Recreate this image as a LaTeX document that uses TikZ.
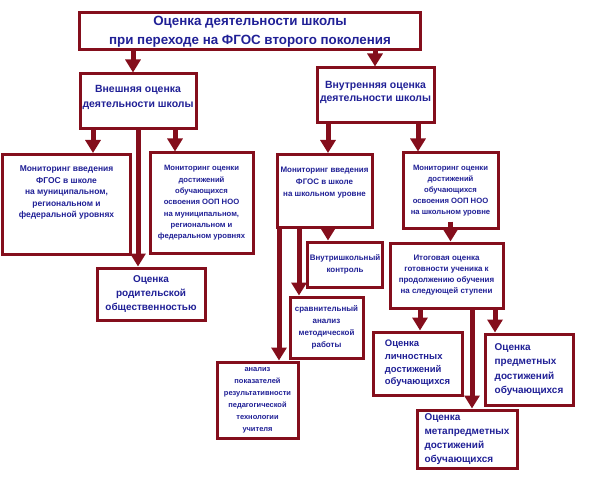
\documentclass[tikz,border=0pt]{standalone}
\usepackage{fontspec}
\setmainfont{Liberation Sans}
\usetikzlibrary{arrows.meta}
\definecolor{frame}{RGB}{132,14,28}
\definecolor{ink}{RGB}{32,32,150}
\newcommand{\fsz}[2]{\fontsize{#1}{#2}\selectfont}

\begin{document}
\begin{tikzpicture}[x=1bp, y=-1bp,
  box/.style={draw=frame, line width=3bp, fill=white, align=center,
              inner sep=2bp, text=ink, font=\bfseries\fsz{8}{12}},
  res/.style={box, align=left, font=\bfseries\fsz{10}{14.5}},
  arr/.style={-{Triangle[width=15bp, length=13bp]}, line width=5bp, draw=frame}
]
  \useasboundingbox (0,0) rectangle (589,480);
  % top level
  \node[box, minimum width=340bp, minimum height=37bp, font=\bfseries\fsz{13.4}{19}]
    (top) at (250,31.5) {Оценка деятельности школы\\при переходе на ФГОС второго поколения};
  \node[box, minimum width=116bp, minimum height=55bp, font=\bfseries\fsz{10.5}{15}]
    (ext) at (138,101.5) {Внешняя оценка\\деятельности школы\\[-4bp]};
  \node[box, minimum width=117bp, minimum height=55bp, font=\bfseries\fsz{10.5}{13.5}]
    (int) at (375.5,95.5) {Внутренняя оценка\\деятельности школы\\[-5bp]};
  % external branch
  \node[box, minimum width=127bp, minimum height=100bp, anchor=north, font=\bfseries\fsz{8.5}{11.5}]
    (monmun) at (66.5,153) {Мониторинг введения\\ФГОС в школе\\на муниципальном,\\региональном и\\федеральной уровнях\\[14bp]};
  \node[box, minimum width=103bp, minimum height=100bp, font=\bfseries\fsz{7.7}{11.4}]
    (oopmun) at (201.5,203) {Мониторинг оценки\\достижений\\обучающихся\\освоения ООП НОО\\на муниципальном,\\региональном и\\федеральном уровнях};
  \node[box, minimum width=108bp, minimum height=52bp, font=\bfseries\fsz{10}{14}]
    (parent) at (151,294) {Оценка\\родительской\\общественностью};
  % internal branch
  \node[box, minimum width=95bp, minimum height=73bp, anchor=north, font=\bfseries\fsz{8}{12.5}]
    (monsch) at (324.5,153) {Мониторинг введения\\ФГОС в школе\\на школьном уровне\\[6bp]};
  \node[box, minimum width=95bp, minimum height=75bp, font=\bfseries\fsz{7.7}{11}]
    (oopsch) at (450.5,190.5) {Мониторинг оценки\\достижений\\обучающихся\\освоения ООП НОО\\на школьном уровне};
  \node[box, minimum width=74bp, minimum height=45bp]
    (control) at (345,264.5) {Внутришкольный\\контроль};
  \node[box, minimum width=73bp, minimum height=61bp]
    (compare) at (326.5,327.5) {сравнительный\\анализ\\методической\\работы};
  \node[box, minimum width=81bp, minimum height=76bp, font=\bfseries\fsz{7.5}{12}]
    (teacher) at (257.5,400) {анализ\\показателей\\результативности\\педагогической\\технологии\\учителя};
  \node[box, minimum width=113bp, minimum height=65bp, font=\bfseries\fsz{8}{11}]
    (final) at (446.5,275.5) {Итоговая оценка\\готовности ученика к\\продолжению обучения\\на следующей ступени};
  % results
  \node[res, minimum width=89bp, minimum height=63bp, font=\bfseries\fsz{9.5}{12.8}]
    (personal) at (417.5,363.5) {Оценка\\личностных\\достижений\\обучающихся};
  \node[res, minimum width=88bp, minimum height=71bp]
    (subject) at (529,369.5) {Оценка\\предметных\\достижений\\обучающихся};
  \node[res, minimum width=100bp, minimum height=58bp, font=\bfseries\fsz{10}{14}]
    (meta) at (467,439) {Оценка\\метапредметных\\достижений\\обучающихся};

  % start points of the arrows
  \coordinate (t1) at ([xshift=-117bp]top.south);
  \coordinate (t2) at ([xshift=125bp]top.south);
  \coordinate (e1) at ([xshift=-45bp]ext.south);
  \coordinate (e2) at (ext.south);
  \coordinate (e3) at ([xshift=37bp]ext.south);
  \coordinate (i1) at ([xshift=-47.5bp]int.south);
  \coordinate (i2) at ([xshift=42.5bp]int.south);
  \coordinate (m1) at ([xshift=-45.5bp]monsch.south);
  \coordinate (m2) at ([xshift=-25.5bp]monsch.south);
  \coordinate (m3) at ([xshift=3.5bp]monsch.south);
  \coordinate (o1) at ([yshift=8bp]oopsch.south);
  \coordinate (f1) at ([xshift=-26.5bp]final.south);
  \coordinate (f2) at ([xshift=25.5bp]final.south);
  \coordinate (f3) at ([xshift=48.5bp]final.south);

  \draw[arr] (t1) -- (t1 |- ext.north);
  \draw[arr] (t2) -- (t2 |- int.north);
  \draw[arr] (e1) -- (e1 |- monmun.north);
  \draw[arr] (e2) -- (e2 |- parent.north);
  \draw[arr] (e3) -- (e3 |- oopmun.north);
  \draw[arr] (i1) -- (i1 |- monsch.north);
  \draw[arr] (i2) -- (i2 |- oopsch.north);
  \draw[arr] (m1) -- (m1 |- teacher.north);
  \draw[arr] (m2) -- (m2 |- compare.north);
  \draw[arr] (m3) -- (m3 |- control.north);
  \draw[arr] (o1) -- (o1 |- final.north);
  \draw[arr] (f1) -- (f1 |- personal.north);
  \draw[arr] (f2) -- (f2 |- meta.north);
  \draw[arr] (f3) -- (f3 |- subject.north);
\end{tikzpicture}
\end{document}
